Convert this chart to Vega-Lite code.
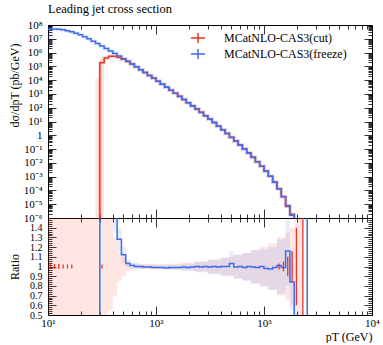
{
  "$schema": "https://vega.github.io/schema/vega-lite/v6.json",
  "padding": {"left": 7, "top": 2, "right": 0, "bottom": 0},
  "config": {
    "font": "Liberation Serif",
    "view": {"stroke": "black", "strokeWidth": 1},
    "axis": {"domain": false, "grid": false, "tickColor": "black", "tickWidth": 0.8, "labelFont": "Liberation Serif", "labelFontSize": 11, "labelColor": "black", "titleFont": "Liberation Serif", "titleFontSize": 12, "titleFontWeight": "normal", "titleColor": "black", "labelOverlap": false, "labelBound": false, "labelFlush": false}
  },
  "datasets": {
    "h": [
      {"lo": 10.00, "MCatNLO-CAS3(cut)": null, "MCatNLO-CAS3(freeze)": 5.01e7},
      {"lo": 10.96, "MCatNLO-CAS3(cut)": null, "MCatNLO-CAS3(freeze)": 5.13e7},
      {"lo": 12.02, "MCatNLO-CAS3(cut)": null, "MCatNLO-CAS3(freeze)": 4.90e7},
      {"lo": 13.18, "MCatNLO-CAS3(cut)": null, "MCatNLO-CAS3(freeze)": 4.47e7},
      {"lo": 14.45, "MCatNLO-CAS3(cut)": null, "MCatNLO-CAS3(freeze)": 3.89e7},
      {"lo": 15.85, "MCatNLO-CAS3(cut)": null, "MCatNLO-CAS3(freeze)": 3.24e7},
      {"lo": 17.38, "MCatNLO-CAS3(cut)": null, "MCatNLO-CAS3(freeze)": 2.57e7},
      {"lo": 19.05, "MCatNLO-CAS3(cut)": null, "MCatNLO-CAS3(freeze)": 1.95e7},
      {"lo": 20.89, "MCatNLO-CAS3(cut)": null, "MCatNLO-CAS3(freeze)": 1.41e7},
      {"lo": 22.91, "MCatNLO-CAS3(cut)": null, "MCatNLO-CAS3(freeze)": 1.0e7},
      {"lo": 25.12, "MCatNLO-CAS3(cut)": 1e-9, "MCatNLO-CAS3(freeze)": 6.76e6},
      {"lo": 27.54, "MCatNLO-CAS3(cut)": 1e-9, "MCatNLO-CAS3(freeze)": 4.47e6},
      {"lo": 30.20, "MCatNLO-CAS3(cut)": 1.8e5, "MCatNLO-CAS3(freeze)": 2.95e6},
      {"lo": 33.11, "MCatNLO-CAS3(cut)": 4.0e5, "MCatNLO-CAS3(freeze)": 1.95e6},
      {"lo": 36.31, "MCatNLO-CAS3(cut)": 5.4e5, "MCatNLO-CAS3(freeze)": 1.29e6},
      {"lo": 39.81, "MCatNLO-CAS3(cut)": 5.4e5, "MCatNLO-CAS3(freeze)": 8.51e5},
      {"lo": 43.65, "MCatNLO-CAS3(cut)": 4.39e5, "MCatNLO-CAS3(freeze)": 5.62e5},
      {"lo": 47.86, "MCatNLO-CAS3(cut)": 3.24e5, "MCatNLO-CAS3(freeze)": 3.63e5},
      {"lo": 52.48, "MCatNLO-CAS3(cut)": 2.27e5, "MCatNLO-CAS3(freeze)": 2.34e5},
      {"lo": 57.54, "MCatNLO-CAS3(cut)": 1.47e5, "MCatNLO-CAS3(freeze)": 1.48e5},
      {"lo": 63.10, "MCatNLO-CAS3(cut)": 9.33e4, "MCatNLO-CAS3(freeze)": 9.33e4},
      {"lo": 69.18, "MCatNLO-CAS3(cut)": 5.75e4, "MCatNLO-CAS3(freeze)": 5.75e4},
      {"lo": 75.86, "MCatNLO-CAS3(cut)": 3.57e4, "MCatNLO-CAS3(freeze)": 3.55e4},
      {"lo": 83.18, "MCatNLO-CAS3(cut)": 2.2e4, "MCatNLO-CAS3(freeze)": 2.19e4},
      {"lo": 91.20, "MCatNLO-CAS3(cut)": 1.36e4, "MCatNLO-CAS3(freeze)": 1.35e4},
      {"lo": 100.0, "MCatNLO-CAS3(cut)": 8.4e3, "MCatNLO-CAS3(freeze)": 8.32e3},
      {"lo": 109.6, "MCatNLO-CAS3(cut)": 5.06e3, "MCatNLO-CAS3(freeze)": 5.01e3},
      {"lo": 120.2, "MCatNLO-CAS3(cut)": 3.07e3, "MCatNLO-CAS3(freeze)": 3.02e3},
      {"lo": 131.8, "MCatNLO-CAS3(cut)": 1.84e3, "MCatNLO-CAS3(freeze)": 1.82e3},
      {"lo": 144.5, "MCatNLO-CAS3(cut)": 1.11e3, "MCatNLO-CAS3(freeze)": 1.10e3},
      {"lo": 158.5, "MCatNLO-CAS3(cut)": 665, "MCatNLO-CAS3(freeze)": 661},
      {"lo": 173.8, "MCatNLO-CAS3(cut)": 391, "MCatNLO-CAS3(freeze)": 389},
      {"lo": 190.5, "MCatNLO-CAS3(cut)": 231, "MCatNLO-CAS3(freeze)": 229},
      {"lo": 208.9, "MCatNLO-CAS3(cut)": 136, "MCatNLO-CAS3(freeze)": 135},
      {"lo": 229.1, "MCatNLO-CAS3(cut)": 79.4, "MCatNLO-CAS3(freeze)": 79.4},
      {"lo": 251.2, "MCatNLO-CAS3(cut)": 46, "MCatNLO-CAS3(freeze)": 45.7},
      {"lo": 275.4, "MCatNLO-CAS3(cut)": 26.3, "MCatNLO-CAS3(freeze)": 26.3},
      {"lo": 302.0, "MCatNLO-CAS3(cut)": 14.9, "MCatNLO-CAS3(freeze)": 14.8},
      {"lo": 331.1, "MCatNLO-CAS3(cut)": 8.32, "MCatNLO-CAS3(freeze)": 8.32},
      {"lo": 363.1, "MCatNLO-CAS3(cut)": 4.6, "MCatNLO-CAS3(freeze)": 4.57},
      {"lo": 398.1, "MCatNLO-CAS3(cut)": 2.51, "MCatNLO-CAS3(freeze)": 2.51},
      {"lo": 436.5, "MCatNLO-CAS3(cut)": 1.35, "MCatNLO-CAS3(freeze)": 1.35},
      {"lo": 478.6, "MCatNLO-CAS3(cut)": 0.703, "MCatNLO-CAS3(freeze)": 0.724},
      {"lo": 524.8, "MCatNLO-CAS3(cut)": 0.382, "MCatNLO-CAS3(freeze)": 0.380},
      {"lo": 575.4, "MCatNLO-CAS3(cut)": 0.2, "MCatNLO-CAS3(freeze)": 0.2},
      {"lo": 631.0, "MCatNLO-CAS3(cut)": 0.103, "MCatNLO-CAS3(freeze)": 0.102},
      {"lo": 691.8, "MCatNLO-CAS3(cut)": 0.0513, "MCatNLO-CAS3(freeze)": 0.0513},
      {"lo": 758.6, "MCatNLO-CAS3(cut)": 0.0252, "MCatNLO-CAS3(freeze)": 0.0251},
      {"lo": 831.8, "MCatNLO-CAS3(cut)": 0.0121, "MCatNLO-CAS3(freeze)": 0.0120},
      {"lo": 912.0, "MCatNLO-CAS3(cut)": 5.62e-3, "MCatNLO-CAS3(freeze)": 5.62e-3},
      {"lo": 1000, "MCatNLO-CAS3(cut)": 2.56e-3, "MCatNLO-CAS3(freeze)": 2.51e-3},
      {"lo": 1096, "MCatNLO-CAS3(cut)": 1.08e-3, "MCatNLO-CAS3(freeze)": 1.05e-3},
      {"lo": 1202, "MCatNLO-CAS3(cut)": 4.02e-4, "MCatNLO-CAS3(freeze)": 3.98e-4},
      {"lo": 1318, "MCatNLO-CAS3(cut)": 1.31e-4, "MCatNLO-CAS3(freeze)": 1.32e-4},
      {"lo": 1445, "MCatNLO-CAS3(cut)": 3.58e-5, "MCatNLO-CAS3(freeze)": 3.55e-5},
      {"lo": 1585, "MCatNLO-CAS3(cut)": 6.84e-6, "MCatNLO-CAS3(freeze)": 7.94e-6},
      {"lo": 1738, "MCatNLO-CAS3(cut)": 1.88e-6, "MCatNLO-CAS3(freeze)": 1.58e-6},
      {"lo": 1905, "MCatNLO-CAS3(cut)": 5e-7, "MCatNLO-CAS3(freeze)": 1e-9},
      {"lo": 2089, "MCatNLO-CAS3(cut)": 3e-7, "MCatNLO-CAS3(freeze)": null},
      {"lo": 2291, "MCatNLO-CAS3(cut)": 1e-9, "MCatNLO-CAS3(freeze)": null}
    ],
    "tb": [
      {"lo": 10.0, "hi": 10.96, "y0": 2.9e6, "y1": 2.6e7, "s": "freeze"},
      {"lo": 27.54, "hi": 30.2, "y0": 1e-9, "y1": 1.4e4, "s": "cut"},
      {"lo": 30.2, "hi": 33.11, "y0": 1e-9, "y1": 4.0e5, "s": "cut"}
    ],
    "r": [
      {"lo": 20.0, "fr": -5},
      {"lo": 30.20, "fr": 16},
      {"lo": 33.11, "fr": 4.9},
      {"lo": 36.31, "fr": 2.4},
      {"lo": 39.81, "fr": 1.58},
      {"lo": 43.65, "fr": 1.28},
      {"lo": 47.86, "fr": 1.12},
      {"lo": 52.48, "fr": 1.03},
      {"lo": 57.54, "fr": 1.01},
      {"lo": 63.10, "fr": 1.0},
      {"lo": 69.18, "fr": 1.0},
      {"lo": 75.86, "fr": 0.995},
      {"lo": 83.18, "fr": 0.995},
      {"lo": 91.20, "fr": 0.99},
      {"lo": 100.0, "fr": 0.99},
      {"lo": 109.6, "fr": 0.99},
      {"lo": 120.2, "fr": 0.985},
      {"lo": 131.8, "fr": 0.99},
      {"lo": 144.5, "fr": 0.99},
      {"lo": 158.5, "fr": 0.99},
      {"lo": 173.8, "fr": 0.995},
      {"lo": 190.5, "fr": 0.99},
      {"lo": 208.9, "fr": 0.995},
      {"lo": 229.1, "fr": 1.0},
      {"lo": 251.2, "fr": 0.995},
      {"lo": 275.4, "fr": 1.0},
      {"lo": 302.0, "fr": 0.995},
      {"lo": 331.1, "fr": 1.0},
      {"lo": 363.1, "fr": 0.995},
      {"lo": 398.1, "fr": 1.0},
      {"lo": 436.5, "fr": 1.0},
      {"lo": 478.6, "fr": 1.03},
      {"lo": 524.8, "fr": 0.995},
      {"lo": 575.4, "fr": 1.0},
      {"lo": 631.0, "fr": 0.99},
      {"lo": 691.8, "fr": 1.0},
      {"lo": 758.6, "fr": 0.995},
      {"lo": 831.8, "fr": 0.99},
      {"lo": 912.0, "fr": 1.0},
      {"lo": 1000, "fr": 0.98},
      {"lo": 1096, "fr": 0.975},
      {"lo": 1202, "fr": 0.99},
      {"lo": 1318, "fr": 1.01},
      {"lo": 1445, "fr": 0.99},
      {"lo": 1585, "fr": 1.16},
      {"lo": 1738, "fr": 0.84},
      {"lo": 1905, "fr": -5},
      {"lo": 2512, "fr": 50},
      {"lo": 2754, "fr": 50}
    ],
    "rb": [
      {"lo": 10, "hi": 36.31, "c_lo": 0, "c_hi": 2, "f_lo": null, "f_hi": null},
      {"lo": 36.31, "hi": 39.81, "c_lo": 0.55, "c_hi": 1.6, "f_lo": null, "f_hi": null},
      {"lo": 39.81, "hi": 43.65, "c_lo": 0.7, "c_hi": 1.3, "f_lo": 1.35, "f_hi": 1.8},
      {"lo": 43.65, "hi": 47.86, "c_lo": 0.85, "c_hi": 1.15, "f_lo": 1.16, "f_hi": 1.4},
      {"lo": 47.86, "hi": 52.48, "c_lo": 0.9, "c_hi": 1.1, "f_lo": 1.04, "f_hi": 1.2},
      {"lo": 52.48, "hi": 57.54, "c_lo": 0.95, "c_hi": 1.05, "f_lo": 0.99, "f_hi": 1.07},
      {"lo": 57.54, "hi": 69.18, "c_lo": 0.97, "c_hi": 1.03, "f_lo": 0.98, "f_hi": 1.04},
      {"lo": 69.18, "hi": 100, "c_lo": 0.975, "c_hi": 1.025, "f_lo": 0.975, "f_hi": 1.02},
      {"lo": 100, "hi": 131.8, "c_lo": 0.975, "c_hi": 1.025, "f_lo": 0.97, "f_hi": 1.015},
      {"lo": 131.8, "hi": 173.8, "c_lo": 0.97, "c_hi": 1.03, "f_lo": 0.965, "f_hi": 1.02},
      {"lo": 173.8, "hi": 229.1, "c_lo": 0.96, "c_hi": 1.04, "f_lo": 0.955, "f_hi": 1.03},
      {"lo": 229.1, "hi": 302.0, "c_lo": 0.95, "c_hi": 1.05, "f_lo": 0.94, "f_hi": 1.05},
      {"lo": 302.0, "hi": 398.1, "c_lo": 0.93, "c_hi": 1.07, "f_lo": 0.92, "f_hi": 1.07},
      {"lo": 398.1, "hi": 478.6, "c_lo": 0.91, "c_hi": 1.09, "f_lo": 0.9, "f_hi": 1.09},
      {"lo": 478.6, "hi": 524.8, "c_lo": 0.9, "c_hi": 1.1, "f_lo": 0.9, "f_hi": 1.16},
      {"lo": 524.8, "hi": 631.0, "c_lo": 0.88, "c_hi": 1.12, "f_lo": 0.87, "f_hi": 1.12},
      {"lo": 631.0, "hi": 758.6, "c_lo": 0.86, "c_hi": 1.14, "f_lo": 0.85, "f_hi": 1.14},
      {"lo": 758.6, "hi": 912.0, "c_lo": 0.83, "c_hi": 1.17, "f_lo": 0.82, "f_hi": 1.17},
      {"lo": 912.0, "hi": 1096, "c_lo": 0.8, "c_hi": 1.2, "f_lo": 0.79, "f_hi": 1.18},
      {"lo": 1096, "hi": 1318, "c_lo": 0.76, "c_hi": 1.24, "f_lo": 0.76, "f_hi": 1.2},
      {"lo": 1318, "hi": 1585, "c_lo": 0.7, "c_hi": 1.3, "f_lo": 0.72, "f_hi": 1.28},
      {"lo": 1585, "hi": 1738, "c_lo": 0.65, "c_hi": 1.35, "f_lo": 0.8, "f_hi": 1.55},
      {"lo": 1738, "hi": 1905, "c_lo": 0.6, "c_hi": 1.4, "f_lo": 0.55, "f_hi": 1.15},
      {"lo": 1905, "hi": 2089, "c_lo": 0.5, "c_hi": 1.55, "f_lo": null, "f_hi": null},
      {"lo": 2089, "hi": 2291, "c_lo": 0, "c_hi": 2, "f_lo": null, "f_hi": null}
    ],
    "re": [
      {"x": 10.47, "lo": 0.975, "hi": 1.025},
      {"x": 11.48, "lo": 0.975, "hi": 1.025},
      {"x": 12.59, "lo": 0.975, "hi": 1.025},
      {"x": 13.8, "lo": 0.98, "hi": 1.02},
      {"x": 15.14, "lo": 0.98, "hi": 1.02},
      {"x": 16.6, "lo": 0.98, "hi": 1.02},
      {"x": 31.6, "lo": 0.98, "hi": 1.02},
      {"x": 1380, "lo": 0.97, "hi": 1.03},
      {"x": 1514, "lo": 0.95, "hi": 1.05},
      {"x": 1660, "lo": 0.9, "hi": 1.1},
      {"x": 1820, "lo": 0.84, "hi": 1.16},
      {"x": 1995, "lo": 0.6, "hi": 1.4},
      {"x": 2291, "lo": -5, "hi": 5}
    ]
  },
  "vconcat": [
    {
      "width": 324,
      "height": 193,
      "title": {"text": "Leading jet cross section", "anchor": "start", "offset": 4, "fontSize": 12.5, "font": "Liberation Serif", "fontWeight": "normal", "color": "black", "frame": "group"},
      "resolve": {"axis": {"x": "independent", "y": "independent"}},
      "layer": [
        {
          "data": {"name": "tb"},
          "mark": {"type": "rect", "clip": true, "opacity": 0.13},
          "encoding": {
            "x": {"field": "lo", "type": "quantitative", "scale": {"type": "log", "domain": [10, 10000], "nice": false},
              "axis": {"orient": "bottom", "values": [10, 100, 1000, 10000], "tickSize": -9, "labels": false, "title": null}},
            "x2": {"field": "hi"},
            "y": {"field": "y0", "type": "quantitative", "scale": {"type": "log", "domain": [1e-6, 1e8], "nice": false},
              "axis": {"orient": "left", "values": [1e-6, 1e-5, 1e-4, 1e-3, 0.01, 0.1, 1, 10, 100, 1000, 1e4, 1e5, 1e6, 1e7, 1e8], "tickSize": -8, "labelPadding": 14,
                "labelExpr": "datum.value == 1 ? '1' : '10' + (datum.value < 1 ? '⁻' : '') + substring('⁰¹²³⁴⁵⁶⁷⁸⁹', abs(round(log(datum.value) / LN10)), abs(round(log(datum.value) / LN10)) + 1)",
                "title": "dσ/dpT (pb/GeV)", "titleX": -30, "titleY": 18, "titleAlign": "right", "titleAngle": -90, "titleBaseline": "alphabetic"}},
            "y2": {"field": "y1"},
            "fill": {"condition": {"test": "datum.s == 'cut'", "value": "#ee3322"}, "value": "#3c6cf0"}
          }
        },
        {
          "data": {"name": "h"},
          "transform": [{"fold": ["MCatNLO-CAS3(cut)", "MCatNLO-CAS3(freeze)"], "as": ["series", "y"]}, {"filter": "isValid(datum.y)"}],
          "mark": {"type": "line", "interpolate": "step-after", "clip": true, "strokeWidth": 3.5, "opacity": 0.15},
          "encoding": {
            "x": {"field": "lo", "type": "quantitative", "scale": {"type": "log", "domain": [10, 10000], "nice": false},
              "axis": {"orient": "bottom", "values": [20, 30, 40, 50, 60, 70, 80, 90, 200, 300, 400, 500, 600, 700, 800, 900, 2000, 3000, 4000, 5000, 6000, 7000, 8000, 9000], "tickSize": -4, "labels": false, "title": null}},
            "y": {"field": "y", "type": "quantitative", "scale": {"type": "log", "domain": [1e-6, 1e8], "nice": false},
              "axis": {"orient": "left", "values": [2e-6, 3e-6, 4e-6, 5e-6, 6e-6, 7e-6, 8e-6, 9e-6, 2e-5, 3e-5, 4e-5, 5e-5, 6e-5, 7e-5, 8e-5, 9e-5, 2e-4, 3e-4, 4e-4, 5e-4, 6e-4, 7e-4, 8e-4, 9e-4, 2e-3, 3e-3, 4e-3, 5e-3, 6e-3, 7e-3, 8e-3, 9e-3, 0.02, 0.03, 0.04, 0.05, 0.06, 0.07, 0.08, 0.09, 0.2, 0.3, 0.4, 0.5, 0.6, 0.7, 0.8, 0.9, 2, 3, 4, 5, 6, 7, 8, 9, 20, 30, 40, 50, 60, 70, 80, 90, 200, 300, 400, 500, 600, 700, 800, 900, 2000, 3000, 4000, 5000, 6000, 7000, 8000, 9000, 2e4, 3e4, 4e4, 5e4, 6e4, 7e4, 8e4, 9e4, 2e5, 3e5, 4e5, 5e5, 6e5, 7e5, 8e5, 9e5, 2e6, 3e6, 4e6, 5e6, 6e6, 7e6, 8e6, 9e6, 2e7, 3e7, 4e7, 5e7, 6e7, 7e7, 8e7, 9e7], "tickSize": -4, "labels": false, "title": null}},
            "detail": {"field": "series", "type": "nominal"},
            "stroke": {"condition": {"test": "datum.series == 'MCatNLO-CAS3(cut)'", "value": "#ee3322"}, "value": "#3c6cf0"}
          }
        },
        {
          "data": {"name": "h"},
          "transform": [{"fold": ["MCatNLO-CAS3(cut)", "MCatNLO-CAS3(freeze)"], "as": ["series", "y"]}, {"filter": "isValid(datum.y) && datum.series == 'MCatNLO-CAS3(cut)'"}],
          "mark": {"type": "line", "interpolate": "step-after", "clip": true, "strokeWidth": 1.5},
          "encoding": {
            "x": {"field": "lo", "type": "quantitative", "scale": {"type": "log", "domain": [10, 10000], "nice": false},
              "axis": {"orient": "top", "values": [10, 100, 1000, 10000], "tickSize": -9, "labels": false, "title": null}},
            "y": {"field": "y", "type": "quantitative", "scale": {"type": "log", "domain": [1e-6, 1e8], "nice": false},
              "axis": {"orient": "right", "values": [1e-6, 1e-5, 1e-4, 1e-3, 0.01, 0.1, 1, 10, 100, 1000, 1e4, 1e5, 1e6, 1e7, 1e8], "tickSize": -8, "labels": false, "title": null}},
            "color": {"field": "series", "type": "nominal", "scale": {"domain": ["MCatNLO-CAS3(cut)", "MCatNLO-CAS3(freeze)"], "range": ["#ee3322", "#3c6cf0"]},
              "legend": {"orient": "none", "legendX": 142, "legendY": 5, "padding": 0, "title": null, "symbolType": "M-1,0L1,0M0,-0.7L0,0.7", "symbolSize": 196, "symbolStrokeWidth": 1.5, "labelOffset": 18, "rowPadding": 0, "labelFont": "Liberation Serif", "labelFontSize": 12, "labelColor": "black"}}
          }
        },
        {
          "data": {"name": "h"},
          "transform": [{"fold": ["MCatNLO-CAS3(cut)", "MCatNLO-CAS3(freeze)"], "as": ["series", "y"]}, {"filter": "isValid(datum.y) && datum.series == 'MCatNLO-CAS3(freeze)'"}],
          "mark": {"type": "line", "interpolate": "step-after", "clip": true, "strokeWidth": 1.5},
          "encoding": {
            "x": {"field": "lo", "type": "quantitative", "scale": {"type": "log", "domain": [10, 10000], "nice": false},
              "axis": {"orient": "top", "values": [20, 30, 40, 50, 60, 70, 80, 90, 200, 300, 400, 500, 600, 700, 800, 900, 2000, 3000, 4000, 5000, 6000, 7000, 8000, 9000], "tickSize": -4, "labels": false, "title": null}},
            "y": {"field": "y", "type": "quantitative", "scale": {"type": "log", "domain": [1e-6, 1e8], "nice": false},
              "axis": {"orient": "right", "values": [2e-6, 3e-6, 4e-6, 5e-6, 6e-6, 7e-6, 8e-6, 9e-6, 2e-5, 3e-5, 4e-5, 5e-5, 6e-5, 7e-5, 8e-5, 9e-5, 2e-4, 3e-4, 4e-4, 5e-4, 6e-4, 7e-4, 8e-4, 9e-4, 2e-3, 3e-3, 4e-3, 5e-3, 6e-3, 7e-3, 8e-3, 9e-3, 0.02, 0.03, 0.04, 0.05, 0.06, 0.07, 0.08, 0.09, 0.2, 0.3, 0.4, 0.5, 0.6, 0.7, 0.8, 0.9, 2, 3, 4, 5, 6, 7, 8, 9, 20, 30, 40, 50, 60, 70, 80, 90, 200, 300, 400, 500, 600, 700, 800, 900, 2000, 3000, 4000, 5000, 6000, 7000, 8000, 9000, 2e4, 3e4, 4e4, 5e4, 6e4, 7e4, 8e4, 9e4, 2e5, 3e5, 4e5, 5e5, 6e5, 7e5, 8e5, 9e5, 2e6, 3e6, 4e6, 5e6, 6e6, 7e6, 8e6, 9e6, 2e7, 3e7, 4e7, 5e7, 6e7, 7e7, 8e7, 9e7], "tickSize": -4, "labels": false, "title": null}},
            "color": {"field": "series", "type": "nominal", "scale": {"domain": ["MCatNLO-CAS3(cut)", "MCatNLO-CAS3(freeze)"], "range": ["#ee3322", "#3c6cf0"]}}
          }
        }
      ]
    },
    {
      "width": 324,
      "height": 97,
      "resolve": {"axis": {"x": "independent", "y": "independent"}},
      "layer": [
        {
          "data": {"name": "rb"},
          "mark": {"type": "rect", "clip": true, "color": "#ee3322", "opacity": 0.12},
          "encoding": {
            "x": {"field": "lo", "type": "quantitative", "scale": {"type": "log", "domain": [10, 10000], "nice": false},
              "axis": {"orient": "bottom", "values": [10, 100, 1000, 10000], "tickSize": -9, "labelPadding": 11,
                "labelExpr": "'10' + substring('⁰¹²³⁴⁵⁶⁷⁸⁹', round(log(datum.value) / LN10), round(log(datum.value) / LN10) + 1)",
                "title": "pT (GeV)", "titleX": 324, "titleY": 25, "titleAlign": "right", "titleBaseline": "alphabetic", "titleAnchor": "end"}},
            "x2": {"field": "hi"},
            "y": {"field": "c_lo", "type": "quantitative", "scale": {"domain": [0.5, 1.5], "nice": false, "zero": false},
              "axis": {"orient": "left", "values": [0.5, 0.6, 0.7, 0.8, 0.9, 1.0, 1.1, 1.2, 1.3, 1.4], "tickSize": -8, "labelPadding": 14, "labelFontSize": 10,
                "labelExpr": "datum.value == 1 ? '1' : format(datum.value, '.1f')",
                "title": "Ratio", "titleX": -30, "titleY": 48.5, "titleAlign": "center", "titleAngle": -90, "titleBaseline": "alphabetic"}},
            "y2": {"field": "c_hi"}
          }
        },
        {
          "data": {"name": "rb"},
          "transform": [{"filter": "isValid(datum.f_lo)"}],
          "mark": {"type": "rect", "clip": true, "color": "#3c6cf0", "opacity": 0.12},
          "encoding": {
            "x": {"field": "lo", "type": "quantitative", "scale": {"type": "log", "domain": [10, 10000], "nice": false},
              "axis": {"orient": "bottom", "values": [20, 30, 40, 50, 60, 70, 80, 90, 200, 300, 400, 500, 600, 700, 800, 900, 2000, 3000, 4000, 5000, 6000, 7000, 8000, 9000], "tickSize": -4, "labels": false, "title": null}},
            "x2": {"field": "hi"},
            "y": {"field": "f_lo", "type": "quantitative", "scale": {"domain": [0.5, 1.5], "nice": false, "zero": false},
              "axis": {"orient": "left", "values": [0.52, 0.54, 0.56, 0.58, 0.62, 0.64, 0.66, 0.68, 0.72, 0.74, 0.76, 0.78, 0.82, 0.84, 0.86, 0.88, 0.92, 0.94, 0.96, 0.98, 1.02, 1.04, 1.06, 1.08, 1.12, 1.14, 1.16, 1.18, 1.22, 1.24, 1.26, 1.28, 1.32, 1.34, 1.36, 1.38, 1.42, 1.44, 1.46, 1.48], "tickSize": -4, "labels": false, "title": null}},
            "y2": {"field": "f_hi"}
          }
        },
        {
          "data": {"name": "r"},
          "mark": {"type": "line", "interpolate": "step-after", "clip": true, "strokeWidth": 1.5, "color": "#3c6cf0"},
          "encoding": {
            "x": {"field": "lo", "type": "quantitative", "scale": {"type": "log", "domain": [10, 10000], "nice": false},
              "axis": {"orient": "top", "values": [10, 100, 1000, 10000], "tickSize": -9, "labels": false, "title": null}},
            "y": {"field": "fr", "type": "quantitative", "scale": {"domain": [0.5, 1.5], "nice": false, "zero": false},
              "axis": {"orient": "right", "values": [0.5, 0.6, 0.7, 0.8, 0.9, 1.0, 1.1, 1.2, 1.3, 1.4, 1.5], "tickSize": -8, "labels": false, "title": null}}
          }
        },
        {
          "mark": {"type": "rule", "color": "#ee3322", "strokeWidth": 1.5},
          "encoding": {
            "y": {"datum": 1, "type": "quantitative", "scale": {"domain": [0.5, 1.5], "nice": false, "zero": false}, "axis": null}
          }
        },
        {
          "data": {"name": "re"},
          "mark": {"type": "rule", "clip": true, "color": "#ee3322", "strokeWidth": 1.3},
          "encoding": {
            "x": {"field": "x", "type": "quantitative", "scale": {"type": "log", "domain": [10, 10000], "nice": false},
              "axis": {"orient": "top", "values": [20, 30, 40, 50, 60, 70, 80, 90, 200, 300, 400, 500, 600, 700, 800, 900, 2000, 3000, 4000, 5000, 6000, 7000, 8000, 9000], "tickSize": -4, "labels": false, "title": null}},
            "y": {"field": "lo", "type": "quantitative", "scale": {"domain": [0.5, 1.5], "nice": false, "zero": false},
              "axis": {"orient": "right", "values": [0.52, 0.54, 0.56, 0.58, 0.62, 0.64, 0.66, 0.68, 0.72, 0.74, 0.76, 0.78, 0.82, 0.84, 0.86, 0.88, 0.92, 0.94, 0.96, 0.98, 1.02, 1.04, 1.06, 1.08, 1.12, 1.14, 1.16, 1.18, 1.22, 1.24, 1.26, 1.28, 1.32, 1.34, 1.36, 1.38, 1.42, 1.44, 1.46, 1.48], "tickSize": -4, "labels": false, "title": null}},
            "y2": {"field": "hi"}
          }
        }
      ]
    }
  ],
  "spacing": 0,
  "bounds": "flush"
}
